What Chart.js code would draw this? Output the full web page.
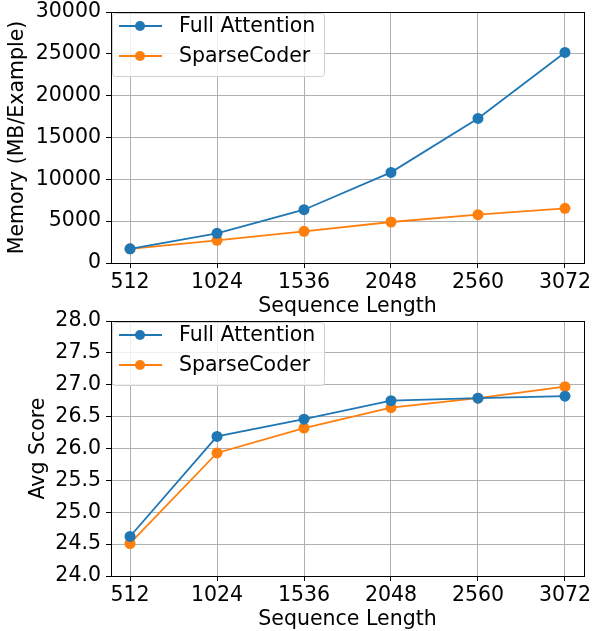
<!DOCTYPE html>
<html>
<head>
<meta charset="utf-8">
<script src="https://cdn.jsdelivr.net/npm/chart.js@4.4.1/dist/chart.umd.min.js"></script>
<style>
  body { margin: 0; background: #fff; }
  #wrap { position: relative; width: 594px; height: 631px; }
  canvas { position: absolute; left: 0; }
  #memChart { top: 0; }
  #scoreChart { top: 296px; }
</style>
</head>
<body>
<div id="wrap">
  <canvas id="memChart" width="594" height="316"></canvas>
  <canvas id="scoreChart" width="594" height="335"></canvas>
</div>
<script>
const seqLens = [512, 1024, 1536, 2048, 2560, 3072];
const seriesNames = ["Full Attention", "SparseCoder"];

const memFull = [1700, 3550, 6370, 10830, 17280, 25170];
const memSparse = [1700, 2710, 3790, 4900, 5770, 6530];

const scoreFull = [24.62, 26.19, 26.46, 26.75, 26.79, 26.82];
const scoreSparse = [24.51, 25.93, 26.32, 26.64, 26.79, 26.97];

const memTicks = [0, 5000, 10000, 15000, 20000, 25000, 30000];
const scoreTicks = [24.0, 24.5, 25.0, 25.5, 26.0, 26.5, 27.0, 27.5, 28.0];

const colors = ['#1f77b4', '#ff7f0e'];
const FONT = "'DejaVu Sans', sans-serif";
const FSIZE = 20.5;

// full box around plot area, matplotlib style
const frameBox = {
    id: 'frameBox',
    afterDraw(chart) {
        const {ctx, chartArea: a} = chart;
        ctx.save();
        ctx.strokeStyle = '#000';
        ctx.lineWidth = 1;
        ctx.strokeRect(Math.round(a.left) + 0.5, Math.round(a.top) + 0.5,
            Math.round(a.right - a.left), Math.round(a.bottom - a.top));
        ctx.restore();
    }
};

// legend in upper-left with line + marker samples
const mplLegend = {
    id: 'mplLegend',
    afterDatasetsDraw(chart) {
        const {ctx, chartArea: a} = chart;
        const x0 = Math.round(a.left) + 1, y0 = Math.round(a.top) + 1;
        ctx.save();
        ctx.beginPath();
        ctx.roundRect(x0 + 0.5, y0 + 0.5, 212, 63, 3);
        ctx.fillStyle = 'rgba(255,255,255,0.8)';
        ctx.fill();
        ctx.strokeStyle = '#d0d0d0';
        ctx.lineWidth = 1;
        ctx.stroke();
        ctx.font = FSIZE + 'px ' + FONT;
        ctx.textBaseline = 'middle';
        chart.data.datasets.forEach((ds, i) => {
            const y = y0 + 13 + i * 30;
            ctx.strokeStyle = ds.borderColor;
            ctx.lineWidth = 1.8;
            ctx.beginPath();
            ctx.moveTo(x0 + 7, y);
            ctx.lineTo(x0 + 50, y);
            ctx.stroke();
            ctx.fillStyle = ds.borderColor;
            ctx.beginPath();
            ctx.arc(x0 + 28, y, 5, 0, Math.PI * 2);
            ctx.fill();
            ctx.fillStyle = '#000';
            ctx.fillText(ds.label, x0 + 67, y + 1);
        });
        ctx.restore();
    }
};

function makeDatasets(a, b) {
    return [a, b].map((vals, i) => ({
        label: seriesNames[i],
        data: vals.map((v, j) => ({x: seqLens[j], y: v})),
        borderColor: colors[i],
        backgroundColor: colors[i],
        borderWidth: 1.8,
        pointRadius: 5.5,
        pointBorderWidth: 0,
        pointHoverRadius: 5.5,
        tension: 0
    }));
}

function makeChart(id, datasets, yOpts) {
    return new Chart(document.getElementById(id), {
        type: 'line',
        data: { datasets },
        plugins: [frameBox, mplLegend],
        options: {
            responsive: false,
            devicePixelRatio: 1,
            animation: false,
            layout: { padding: { top: yOpts.padTop, right: 10, left: 0, bottom: 0 } },
            plugins: { legend: { display: false }, tooltip: { enabled: false } },
            scales: {
                x: {
                    type: 'linear',
                    min: 400,
                    max: 3184,
                    afterBuildTicks: axis => { axis.ticks = seqLens.map(v => ({value: v})); },
                    afterFit: axis => {
                        axis.height = yOpts.xHeight;
                        axis.paddingLeft = 0;
                        axis.paddingRight = 0;
                    },
                    border: { display: false },
                    grid: { color: '#b0b0b0', lineWidth: 1, tickColor: '#000', tickLength: 5 },
                    ticks: {
                        color: '#000', font: { family: FONT, size: FSIZE }, padding: 2,
                        maxRotation: 0, callback: v => String(v)
                    },
                    title: {
                        display: true, text: 'Sequence Length', color: '#000',
                        font: { family: FONT, size: FSIZE, lineHeight: 1.1 },
                        padding: { top: 0, bottom: yOpts.xTitlePad }
                    }
                },
                y: {
                    min: yOpts.min,
                    max: yOpts.max,
                    afterBuildTicks: axis => { axis.ticks = yOpts.ticks.map(v => ({value: v})); },
                    afterFit: axis => {
                        axis.width = 111;
                        axis.paddingTop = 0;
                        axis.paddingBottom = 0;
                    },
                    border: { display: false },
                    grid: { color: '#b0b0b0', lineWidth: 1, tickColor: '#000', tickLength: 5 },
                    ticks: {
                        color: '#000', font: { family: FONT, size: FSIZE }, padding: 5,
                        callback: yOpts.fmt
                    },
                    title: {
                        display: true, text: yOpts.title, color: '#000',
                        font: { family: FONT, size: FSIZE, lineHeight: 1.1 },
                        padding: { top: yOpts.yTitlePad, bottom: 0 }
                    }
                }
            }
        }
    });
}

makeChart('memChart', makeDatasets(memFull, memSparse), {
    min: 0, max: 30000, ticks: memTicks, fmt: v => String(v),
    title: 'Memory (MB/Example)', padTop: 12, xHeight: 53, xTitlePad: -2, yTitlePad: 6
});

makeChart('scoreChart', makeDatasets(scoreFull, scoreSparse), {
    min: 24, max: 28, ticks: scoreTicks, fmt: v => v.toFixed(1),
    title: 'Avg Score', padTop: 25, xHeight: 55, xTitlePad: 0, yTitlePad: 27
});
</script>
</body>
</html>
